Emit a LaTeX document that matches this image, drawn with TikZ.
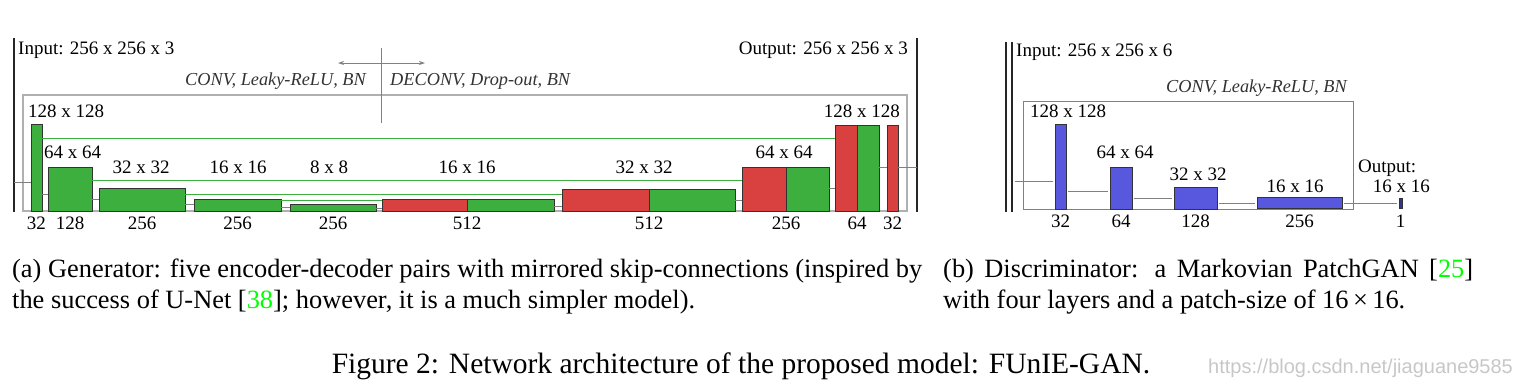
\documentclass[tikz,border=0pt]{standalone}
\usepackage{fontspec}
\setmainfont{Liberation Serif}
\newfontfamily\markfont{Liberation Sans}
\usetikzlibrary{positioning, arrows.meta}
\definecolor{encgreen}{RGB}{61,175,63}
\definecolor{decred}{RGB}{217,64,64}
\definecolor{disblue}{RGB}{88,88,222}
\definecolor{framegray}{RGB}{176,176,176}
\definecolor{linegray}{RGB}{128,128,128}
\definecolor{citegreen}{RGB}{0,255,0}

\begin{document}
\begin{tikzpicture}[x=1pt, y=-1pt,
        block/.style={draw=black!80, line width=0.8pt, anchor=south west, inner sep=0pt, outer sep=0pt},
        enc/.style={block, fill=encgreen},
        dec/.style={block, fill=decred},
        dis/.style={block, fill=disblue},
        conn/.style={draw=linegray, line width=0.9pt},
        skip/.style={draw=encgreen, line width=0.9pt},
        wall/.style={draw=black!85, line width=1.8pt},
        lbl/.style={inner sep=0pt, font=\fontsize{19}{22}\selectfont},
        ops/.style={inner sep=0pt, font=\fontsize{18.3}{22}\selectfont\itshape, text=black!80},
        captext/.style={inner sep=0pt, anchor=base west, font=\fontsize{26.4}{31}\selectfont}]
                \useasboundingbox (0,0) rectangle (1527,389);
                \draw[framegray, line width=1.5pt] (23,95) rectangle (907,211);
                \draw[linegray, line width=0.9pt] (1023,101) rectangle (1353,209);
                \draw[wall] (14,38) -- (14,212);
                \draw[wall] (917,38) -- (917,212);
                \draw[wall] (1006,42) -- (1006,212);
                \draw[wall] (1012,42) -- (1012,212);

                \coordinate (mid) at (381,63);
                \coordinate (opl) at (338,63);
                \coordinate (opr) at (425,63);
                \draw[conn] (381,48) -- (381,123);
                \draw[conn, -{Stealth[length=6pt, width=4pt]}] (mid) -- (opl);
                \draw[conn, -{Stealth[length=6pt, width=4pt]}] (mid) -- (opr);

                \node[enc, minimum width=11pt, minimum height=87pt] (e1) at (31,211) {};
                \node[enc, minimum width=44pt, minimum height=44pt] (e2) at (48,211) {};
                \node[enc, minimum width=86pt, minimum height=23pt] (e3) at (99,211) {};
                \node[enc, minimum width=87pt, minimum height=12pt] (e4) at (194,211) {};
                \node[enc, minimum width=86pt, minimum height=7pt] (e5) at (290,211) {};
                \node[dec, minimum width=85pt, minimum height=12pt] (d4r) at (382,211) {};
                \node[enc, minimum width=87pt, minimum height=12pt, right=0pt of d4r] (d4g) {};
                \node[dec, minimum width=87pt, minimum height=22pt] (d3r) at (562,211) {};
                \node[enc, minimum width=86pt, minimum height=22pt, right=0pt of d3r] (d3g) {};
                \node[dec, minimum width=44pt, minimum height=44pt] (d2r) at (742,211) {};
                \node[enc, minimum width=43pt, minimum height=44pt, right=0pt of d2r] (d2g) {};
                \node[dec, minimum width=22pt, minimum height=86pt] (d1r) at (835,211) {};
                \node[enc, minimum width=22pt, minimum height=86pt, right=0pt of d1r] (d1g) {};
                \node[dec, minimum width=11pt, minimum height=86pt] (o1) at (887,211) {};

                \coordinate (gin) at (14,182);
                \coordinate (gout) at (917,167);
                \draw[conn] (gin) -- (e1.west |- gin);
                \draw[conn] (e1.east |- 0,194) -- (e2.west |- 0,194);
                \draw[conn] (e2.east |- 0,199) -- (e3.west |- 0,199);
                \draw[conn] (e3.east |- 0,204) -- (e4.west |- 0,204);
                \draw[conn] (e4.east |- 0,207) -- (e5.west |- 0,207);
                \draw[conn] (e5.east |- 0,208) -- (d4r.west |- 0,208);
                \draw[conn] (d4g.east |- 0,206) -- (d3r.west |- 0,206);
                \draw[conn] (d3g.east |- 0,200) -- (d2r.west |- 0,200);
                \draw[conn] (d2g.east |- 0,188) -- (d1r.west |- 0,188);
                \draw[conn] (d1g.east |- gout) -- (o1.west |- gout);
                \draw[conn] (o1.east |- gout) -- (gout);

                \draw[skip] (e1.east |- 0,138) -- (d1r.west |- 0,138);
                \draw[skip] (e2.east |- 0,180) -- (d2r.west |- 0,180);
                \draw[skip] (e3.east |- 0,194) -- (d3r.west |- 0,194);
                \draw[skip] (e4.east |- 0,200) -- (d4r.west |- 0,200);

                \node[lbl, anchor=base west] (gin-txt) at (18,54) {Input: 256 x 256 x 3};
                \node[lbl, anchor=base east] (gout-txt) at (908,54) {Output: 256 x 256 x 3};
                \node[ops, anchor=base east] (enc-ops) at (366,85) {CONV, Leaky-ReLU, BN};
                \node[ops, anchor=base west] (dec-ops) at (390,85) {DECONV, Drop-out, BN};

                \node[lbl, anchor=base west] (sz1) at (28,117) {128 x 128};
                \node[lbl, anchor=base west] (sz2) at (44,158) {64 x 64};
                \node[lbl, anchor=base] (sz3) at (141,173) {32 x 32};
                \node[lbl, anchor=base] (sz4) at (238,173) {16 x 16};
                \node[lbl, anchor=base] (sz5) at (329,173) {8 x 8};
                \node[lbl, anchor=base] (sz6) at (467,173) {16 x 16};
                \node[lbl, anchor=base] (sz7) at (644,173) {32 x 32};
                \node[lbl, anchor=base] (sz8) at (784,158) {64 x 64};
                \node[lbl, anchor=base east] (sz9) at (900,117) {128 x 128};

                \node[lbl, below=6pt of e1.south] (ch1) {32};
                \node[lbl, below=6pt of e2.south] (ch2) {128};
                \node[lbl, below=6pt of e3.south] (ch3) {256};
                \node[lbl, below=6pt of e4.south] (ch4) {256};
                \node[lbl, below=6pt of e5.south] (ch5) {256};
                \node[lbl, below=6pt of d4r.south east] (ch6) {512};
                \node[lbl, below=6pt of d3r.south east] (ch7) {512};
                \node[lbl, below=6pt of d2r.south east] (ch8) {256};
                \node[lbl, below=6pt of d1r.south east] (ch9) {64};
                \node[lbl, below=6pt of o1.south] (ch10) {32};

                \node[dis, minimum width=11pt, minimum height=85pt] (c1) at (1055,209) {};
                \node[dis, minimum width=22pt, minimum height=42pt] (c2) at (1110,209) {};
                \node[dis, minimum width=43pt, minimum height=22pt] (c3) at (1174,209) {};
                \node[dis, minimum width=85pt, minimum height=11pt] (c4) at (1257,208) {};
                \node[dis, minimum width=3pt, minimum height=10pt, fill=disblue!60!black] (c5) at (1399,208) {};

                \coordinate (din) at (1015,181);
                \draw[conn, shorten >=2pt] (din) -- (c1.west |- din);
                \draw[conn, shorten <=2pt, shorten >=2pt] (c1.east |- 0,191) -- (c2.west |- 0,191);
                \draw[conn, shorten <=2pt, shorten >=2pt] (c2.east |- 0,198) -- (c3.west |- 0,198);
                \draw[conn, shorten <=2pt, shorten >=2pt] (c3.east |- 0,203) -- (c4.west |- 0,203);
                \draw[conn, shorten <=2pt, shorten >=2pt] (c4.east |- 0,203) -- (c5.west |- 0,203);

                \node[lbl, anchor=base west] (din-txt) at (1016,56) {Input: 256 x 256 x 6};
                \node[ops, anchor=base east] (dis-ops) at (1347,92) {CONV, Leaky-ReLU, BN};
                \node[lbl, anchor=base west] (ds1) at (1030,117) {128 x 128};
                \node[lbl, anchor=base] (ds2) at (1125,158) {64 x 64};
                \node[lbl, anchor=base] (ds3) at (1198,180) {32 x 32};
                \node[lbl, anchor=base] (ds4) at (1295,192) {16 x 16};
                \node[lbl, anchor=base west] (dout-a) at (1358,172) {Output:};
                \node[lbl, anchor=base east] (dout-b) at (1430,192) {16 x 16};

                \node[lbl, below=6pt of c1.south] (dc1) {32};
                \node[lbl, below=6pt of c2.south] (dc2) {64};
                \node[lbl, below=6pt of c3.south] (dc3) {128};
                \node[lbl, below=7pt of c4.south] (dc4) {256};
                \node[lbl, below=7pt of c5.south] (dc5) {1};

                \node[captext] (cap-a1) at (12,277) {\makebox[910pt][s]{(a) Generator: five encoder-decoder pairs with mirrored skip-connections (inspired by}};
                \node[captext] (cap-a2) at (12,308) {the success of U-Net [\textcolor{citegreen}{38}]; however, it is a much simpler model).};
                \node[captext] (cap-b1) at (943,277) {\makebox[530pt][s]{(b) Discriminator: a Markovian PatchGAN [\textcolor{citegreen}{25}]}};
                \node[captext] (cap-b2) at (943,308) {with four layers and a patch-size of 16\,×\,16.};
                \node[captext, anchor=base, font=\fontsize{29.5}{34}\selectfont] (fig) at (741,373) {Figure 2: Network architecture of the proposed model: FUnIE-GAN.};
                \node[inner sep=0pt, anchor=west, text=black!22, font=\markfont\fontsize{20}{22}\selectfont] (mark) at (1208,368) {https://blog.csdn.net/jiaguane9585};
\end{tikzpicture}
\end{document}
